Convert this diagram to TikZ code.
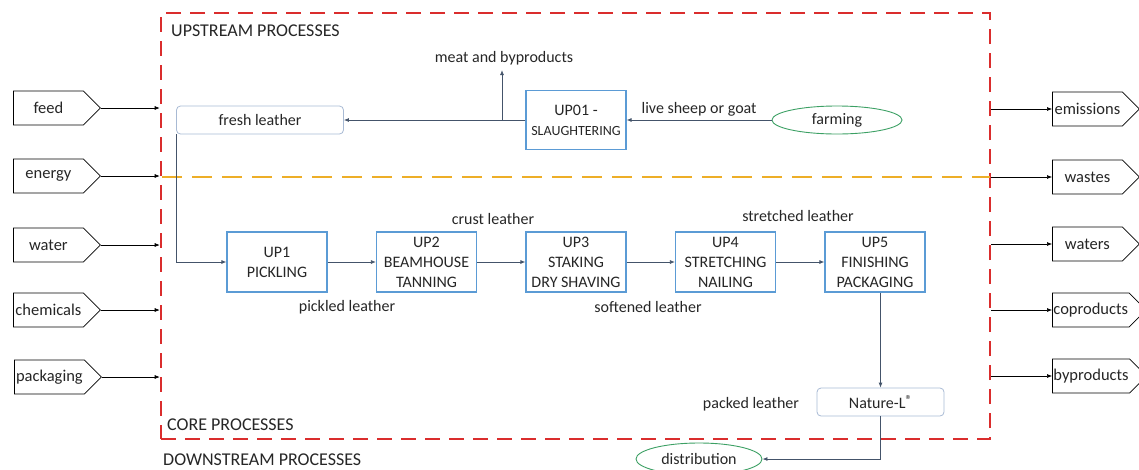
\documentclass[tikz,border=0pt]{standalone}
\usepackage{fontspec}
\setmainfont{Carlito}
\usetikzlibrary{positioning,shapes.geometric,shapes.symbols,arrows.meta}
\definecolor{frameRed}{RGB}{218,45,45}
\definecolor{splitGold}{RGB}{237,174,40}
\definecolor{procBlue}{RGB}{91,155,213}
\definecolor{softBlue}{RGB}{168,186,212}
\definecolor{farmGreen}{RGB}{60,160,100}
\definecolor{flowNavy}{RGB}{68,84,106}
\definecolor{ink}{RGB}{38,38,38}
\begin{document}
\begin{tikzpicture}[x=1pt, y=-1pt, node distance={149.5pt}, text=ink,
	proc/.style = {draw=procBlue, line width=1.2pt, minimum width=100pt, minimum height=60pt, inner sep=1pt, align=center, font=\fontsize{16}{20}\selectfont},
	store/.style = {draw=softBlue, line width=0.8pt, rounded corners=4pt, minimum height=28pt, font=\fontsize{16}{19}\selectfont},
	farm/.style = {draw=farmGreen, line width=0.9pt, ellipse, inner sep=0pt, font=\fontsize{16}{19}\selectfont},
	lbl/.style = {font=\fontsize{16}{19}\selectfont, inner sep=3pt},
	head/.style = {font=\fontsize{18}{21}\selectfont, inner sep=0pt, anchor=west},
	inbox/.style = {draw=black, line width=0.8pt, fill=white, signal, signal to=east, signal pointer angle=90, minimum width=87pt, minimum height=34pt, inner sep=1pt, font=\fontsize{16.5}{19}\selectfont, anchor=west},
	flow/.style = {draw=flowNavy, line width=0.8pt, -{Latex[length=5pt,width=4pt]}},
	io/.style = {draw=black, line width=0.6pt, -{Latex[length=5pt,width=4pt]}}]
	\useasboundingbox (0,0) rectangle (1139,469);
	% system boundary
	\node[draw=frameRed, line width=2.6pt, dash pattern=on 15pt off 9pt, minimum width=829pt, minimum height=426pt, inner sep=0pt] (core) at (575.5,226) {};
	\draw[splitGold, line width=2.4pt, dash pattern=on 20pt off 10pt] (162,177) -- (990,177);
	\node[head] (uplbl) at (171,31) {UPSTREAM PROCESSES};
	\node[head] (corelbl) at (167,425) {CORE PROCESSES};
	\node[head] (downlbl) at (163,460) {DOWNSTREAM PROCESSES};

	% inputs and outputs
	\node[inbox] (feed) at (13,108) {feed};
	\node[inbox] (energy) at (13,176) {energy};
	\node[inbox] (water) at (13,245) {water};
	\node[inbox] (chem) at (13,310) {chemicals};
	\node[inbox] (pack) at (14,377) {packaging};
	\node[inbox] (emis) at (1052,109) {emissions};
	\node[inbox] (wastes) at (1052,177) {wastes};
	\node[inbox] (waters) at (1052,244) {waters};
	\node[inbox] (coprod) at (1052,310) {coproducts};
	\node[inbox] (byprod) at (1052,376) {byproducts};
	\foreach \n in {feed,energy,water,chem,pack}
		\draw[io] (\n.east) -- (\n.east -| core.west);
	\foreach \n in {emis,wastes,waters,coprod,byprod}
		\draw[io] (\n.west -| core.east) -- (\n.west);

	% upstream
	\node[proc, minimum height=59pt] (up01) at (576,120) {UP01 -\\{\fontsize{14}{18}\selectfont SLAUGHTERING}};
	\node[store, minimum width=167pt] (fresh) at (260,120) {fresh leather};
	\node[farm, minimum width=130pt, minimum height=28pt] (farming) at (837,120) {farming};
	\node[lbl] (meat) at (504,58) {meat and byproducts};
	\coordinate (meatsplit) at (502,120);
	\draw[flow] (farming.west) -- node[lbl, above] (live) {live sheep or goat} (up01.east);
	\draw[flow] (up01.west) -- (fresh.east);
	\draw[flow, shorten >=2pt] (meatsplit) -- (meatsplit |- meat.south);

	% core
	\node[proc] (up1) at (277,262) {UP1\\PICKLING};
	\node[proc] (up2) [right of=up1] {UP2\\BEAMHOUSE\\TANNING};
	\node[proc] (up3) [right of=up2] {UP3\\STAKING\\DRY SHAVING};
	\node[proc] (up4) [right of=up3] {UP4\\STRETCHING\\NAILING};
	\node[proc] (up5) [right of=up4] {UP5\\FINISHING\\PACKAGING};
	\node[lbl] (pickled) at (347,307) {pickled leather};
	\node[lbl] (crust) at (493,219) {crust leather};
	\node[lbl] (soft) at (648,307) {softened leather};
	\node[lbl] (stretch) at (798,216) {stretched leather};
	\draw[flow] (fresh.south west) |- (up1.west);
	\draw[flow] (up1.east) -- (up2.west);
	\draw[flow] (up2.east) -- (up3.west);
	\draw[flow] (up3.east) -- (up4.west);
	\draw[flow] (up4.east) -- (up5.west);

	% downstream
	\node[store, minimum width=127pt] (nature) at (880.5,402) {Nature-L{\fontsize{13}{13}\selectfont\raisebox{4pt}{®}}};
	\node[lbl] (packed) at (751,404) {packed leather};
	\node[farm, minimum width=126pt, minimum height=32pt] (distrib) at (699,459) {distribution};
	\draw[flow] (nature.north |- up5.south) -- (nature.north);
	\draw[flow] (nature.south) |- (distrib.east);
\end{tikzpicture}
\end{document}
